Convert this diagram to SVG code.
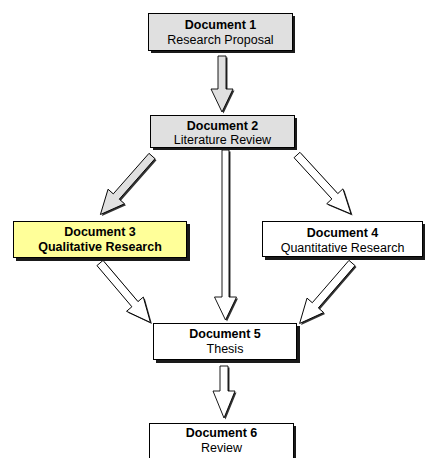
<svg xmlns="http://www.w3.org/2000/svg" width="425" height="458" viewBox="0 0 425 458">
<style>
.box{stroke:#000;stroke-width:1}
.gray{fill:#e0e0e0}
.white{fill:#fff}
.yellow{fill:#ffff99}
.sh{fill:#1a1a1a}
.t1{font-family:"Liberation Sans",Arial,sans-serif;font-size:12.5px;font-weight:bold;text-anchor:middle;fill:#000}
.t2{font-family:"Liberation Sans",Arial,sans-serif;font-size:12.5px;text-anchor:middle;fill:#000}
.ar{stroke:#000;stroke-width:0.9;stroke-linejoin:miter}
.as{fill:#333}
</style>
<defs>
<polygon id="pA" transform="translate(222,56) rotate(90)" points="0,-4 33,-4 33,-11 56,0 33,11 33,4 0,4"/>
<polygon id="pB" transform="translate(225.5,150) rotate(90)" points="0,-3.5 147,-3.5 147,-11 170,0 147,11 147,3.5 0,3.5"/>
<polygon id="pC" transform="translate(224,366) rotate(90)" points="0,-4 25,-4 25,-11 52,0 25,11 25,4 0,4"/>
<polygon id="pD" transform="translate(152,156) rotate(131.4)" points="0,-4 54,-4 54,-11 78,0 54,11 54,4 0,4"/>
<polygon id="pE" transform="translate(297,155) rotate(47.5)" points="0,-4 56,-4 56,-11 80,0 56,11 56,4 0,4"/>
<polygon id="pF" transform="translate(100,263) rotate(49.7)" points="0,-4 54,-4 54,-11 78,0 54,11 54,4 0,4"/>
<polygon id="pG" transform="translate(352,263) rotate(130.9)" points="0,-4 56,-4 56,-11 80,0 56,11 56,4 0,4"/>
</defs>
<g id="connectors">
<use href="#pA" class="as" transform="translate(1.5,1.5)"/>
<use href="#pA" class="ar gray"/>
<use href="#pB" class="as" transform="translate(1.5,1.5)"/>
<use href="#pB" class="ar white"/>
<use href="#pC" class="as" transform="translate(1.5,1.5)"/>
<use href="#pC" class="ar white"/>
<use href="#pD" class="as" transform="translate(1.5,1.5)"/>
<use href="#pD" class="ar gray"/>
<use href="#pE" class="as" transform="translate(1.5,1.5)"/>
<use href="#pE" class="ar white"/>
<use href="#pF" class="as" transform="translate(1.5,1.5)"/>
<use href="#pF" class="ar white"/>
<use href="#pG" class="as" transform="translate(1.5,1.5)"/>
<use href="#pG" class="ar white"/>
</g>
<g id="doc1">
<rect x="151" y="16" width="144" height="37" class="sh"/>
<rect x="148.5" y="13.5" width="144" height="37" class="box gray"/>
<text x="220.5" y="29" class="t1">Document 1</text>
<text x="220.5" y="44" class="t2">Research Proposal</text>
</g>
<g id="doc2">
<rect x="153" y="118" width="144" height="32" class="sh"/>
<rect x="150.5" y="115.5" width="144" height="32" class="box gray"/>
<text x="222.5" y="130" class="t1">Document 2</text>
<text x="222.5" y="144" class="t2">Literature Review</text>
</g>
<g id="doc3">
<rect x="16" y="224" width="174" height="37" class="sh"/>
<rect x="13.5" y="221.5" width="173" height="36" class="box yellow"/>
<text x="100" y="236" class="t1">Document 3</text>
<text x="100" y="251" class="t1">Qualitative Research</text>
</g>
<g id="doc4">
<rect x="265" y="224" width="162" height="36" class="sh"/>
<rect x="262.5" y="221.5" width="160" height="35" class="box white"/>
<text x="342.5" y="237" class="t1">Document 4</text>
<text x="342.5" y="252" class="t2">Quantitative Research</text>
</g>
<g id="doc5">
<rect x="156" y="326" width="144" height="37" class="sh"/>
<rect x="153.5" y="323.5" width="143" height="36" class="box white"/>
<text x="225" y="338" class="t1">Document 5</text>
<text x="225" y="353" class="t2">Thesis</text>
</g>
<g id="doc6">
<rect x="152" y="426" width="144" height="50" class="sh"/>
<rect x="149.5" y="423.5" width="144" height="50" class="box white"/>
<text x="221.5" y="437" class="t1">Document 6</text>
<text x="221.5" y="452" class="t2">Review</text>
</g>
</svg>
